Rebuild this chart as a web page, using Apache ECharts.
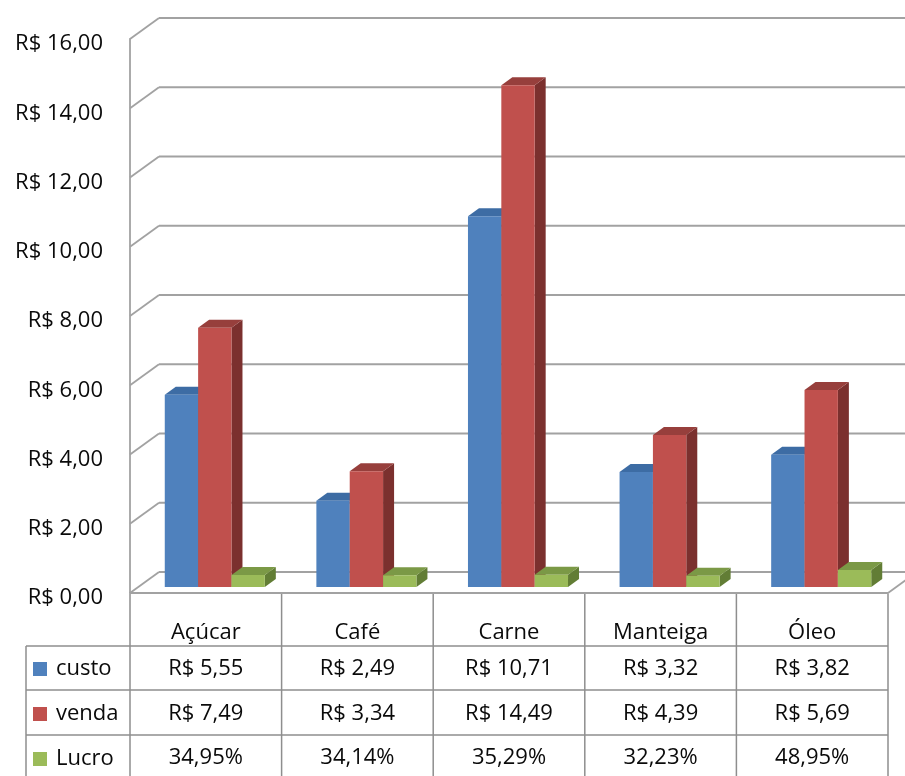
<!DOCTYPE html>
<html>
<head>
<meta charset="utf-8">
<script src="https://cdn.jsdelivr.net/npm/echarts@6/dist/echarts.min.js"></script>
<style>
html,body{margin:0;padding:0;background:#fff;}
#chart{width:905px;height:776px;}
</style>
</head>
<body>
<div id="chart"></div>
<script>
// ---- data ----
const categories = ['Açúcar', 'Café', 'Carne', 'Manteiga', 'Óleo'];
const custo = [5.55, 2.49, 10.71, 3.32, 3.82];
const venda = [7.49, 3.34, 14.49, 4.39, 5.69];
const lucro = [0.3495, 0.3414, 0.3529, 0.3223, 0.4895];
const seriesNames = ['custo', 'venda', 'Lucro'];
const yTicks = [0, 2, 4, 6, 8, 10, 12, 14, 16];

// ---- styling ----
const FONT = '"Open Sans", "DejaVu Sans", sans-serif';
const TXT = '#0a0a0a';
const GRID_C = '#a2a2a2';
const TABLE_C = '#8e8e8e';
const WALL_DX = 29, WALL_DY = 21;     // back wall offset
const BAR_OX = 9, BAR_OY = 6;         // bar plane offset
const BAR_DX = 11, BAR_DY = 8;        // bar depth
const faces = [
  {front: '#4F81BD', top: '#3D6CA4', side: '#385D8A'},
  {front: '#C0504D', top: '#973F3C', side: '#7B302E'},
  {front: '#9BBB59', top: '#7B9946', side: '#627D35'}
];

const fmtMoney = v => 'R$ ' + v.toFixed(2).replace('.', ',');
const fmtPct = v => (v * 100).toFixed(2).replace('.', ',') + '%';

const chart = echarts.init(document.getElementById('chart'));

function frameRender(params, api) {
  const cs = params.coordSys;
  const v = api.value(1);
  const y = api.coord([0, v])[1];
  const left = cs.x, right = cs.x + cs.width;
  const st = {stroke: GRID_C, lineWidth: 1.8};
  const children = [
    {type: 'line', shape: {x1: left, y1: y, x2: left + WALL_DX, y2: y - WALL_DY}, style: st},
    {type: 'line', shape: {x1: left + WALL_DX, y1: y - WALL_DY, x2: right + WALL_DX + 40, y2: y - WALL_DY}, style: st}
  ];
  if (v === 0) {
    children.push({type: 'line', shape: {x1: right, y1: y, x2: right + WALL_DX, y2: y - WALL_DY}, style: st});
  }
  return {type: 'group', children: children};
}

function makeBarRender(idx) {
  return function (params, api) {
    const i = api.value(0);
    const v = api.value(1);
    const band = api.size([1, 0])[0];
    const bw = band * 0.22;
    const center = api.coord([i, 0])[0] + BAR_OX;
    const x0 = center - 1.5 * bw + idx * bw;
    const x1 = x0 + bw;
    const yb = api.coord([i, 0])[1] - BAR_OY;
    const yt = api.coord([i, v])[1] - BAR_OY;
    const f = faces[idx];
    return {
      type: 'group',
      children: [
        {type: 'polygon', shape: {points: [[x1, yt], [x1 + BAR_DX, yt - BAR_DY], [x1 + BAR_DX, yb - BAR_DY], [x1, yb]]}, style: {fill: f.side}},
        {type: 'polygon', shape: {points: [[x0, yt], [x1, yt], [x1 + BAR_DX, yt - BAR_DY], [x0 + BAR_DX, yt - BAR_DY]]}, style: {fill: f.top}},
        {type: 'rect', shape: {x: x0, y: yt, width: bw, height: yb - yt}, style: {fill: f.front}}
      ]
    };
  };
}

function tableRender(params, api) {
  const i = api.value(0);
  const cx = api.coord([i, 0])[0];
  const half = api.size([1, 0])[0] / 2;
  const y0 = api.coord([i, 0])[1];
  const rowsY = [669, 714, 758];
  const lines = [646, 690, 735, 779];
  const st = {stroke: TABLE_C, lineWidth: 1.5};
  const children = [];
  children.push({type: 'line', shape: {x1: cx + half, y1: y0 + 1, x2: cx + half, y2: 790}, style: st});
  if (i === 0) {
    children.push({type: 'line', shape: {x1: cx - half, y1: y0 + 1, x2: cx - half, y2: 790}, style: st});
    children.push({type: 'line', shape: {x1: 26, y1: lines[0], x2: 26, y2: 790}, style: st});
  }
  lines.forEach(ly => {
    children.push({type: 'line', shape: {x1: i === 0 ? 26 : cx - half, y1: ly, x2: cx + half, y2: ly}, style: st});
  });
  const texts = [fmtMoney(custo[i]), fmtMoney(venda[i]), fmtPct(lucro[i])];
  texts.forEach((t, r) => {
    children.push({type: 'text', x: cx, y: rowsY[r], style: {text: t, fill: TXT, font: '22px ' + FONT, align: 'center', verticalAlign: 'middle'}});
  });
  return {type: 'group', children: children};
}

const option = {
  backgroundColor: '#ffffff',
  animation: false,
  grid: {left: 130, right: 17, top: 39, bottom: 183, outerBoundsMode: 'none', containLabel: false},
  legend: {
    orient: 'vertical', left: 33, top: 658, padding: 0,
    itemWidth: 14, itemHeight: 14, itemGap: 23, icon: 'rect',
    selectedMode: false,
    data: seriesNames,
    textStyle: {fontSize: 22, fontFamily: FONT, color: TXT, lineHeight: 22, padding: [0, 0, 0, 4]}
  },
  xAxis: {
    type: 'category', data: categories,
    axisLine: {show: true, lineStyle: {color: GRID_C, width: 1.8}},
    axisTick: {show: false},
    axisLabel: {fontSize: 22, fontFamily: FONT, color: TXT, margin: 29}
  },
  yAxis: {
    type: 'value', min: 0, max: 16, interval: 2,
    axisLine: {show: true, lineStyle: {color: GRID_C, width: 1.8}},
    axisTick: {show: false},
    splitLine: {show: false},
    axisLabel: {fontSize: 22, fontFamily: FONT, color: TXT, margin: 27, verticalAlign: 'top', lineHeight: 10, formatter: v => fmtMoney(v)}
  },
  series: [
    {type: 'custom', name: 'frame', silent: true, z: 1, renderItem: frameRender, data: yTicks.map(v => [0, v]), encode: {x: 0, y: 1}},
    {type: 'custom', name: seriesNames[0], z: 3, itemStyle: {color: faces[0].front}, renderItem: makeBarRender(0), data: custo.map((v, i) => [i, v]), encode: {x: 0, y: 1}},
    {type: 'custom', name: seriesNames[1], z: 3, itemStyle: {color: faces[1].front}, renderItem: makeBarRender(1), data: venda.map((v, i) => [i, v]), encode: {x: 0, y: 1}},
    {type: 'custom', name: seriesNames[2], z: 3, itemStyle: {color: faces[2].front}, renderItem: makeBarRender(2), data: lucro.map((v, i) => [i, v]), encode: {x: 0, y: 1}},
    {type: 'custom', name: 'table', silent: true, z: 2, renderItem: tableRender, data: categories.map((c, i) => [i, 0]), encode: {x: 0, y: 1}}
  ]
};
chart.setOption(option);
</script>
</body>
</html>
